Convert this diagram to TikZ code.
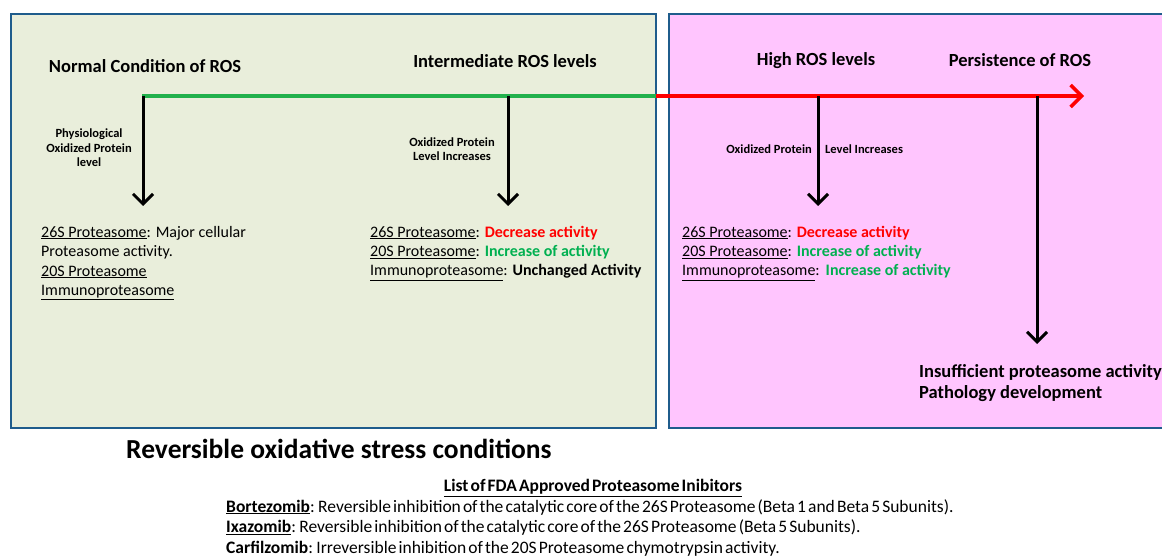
\documentclass[tikz,border=0pt]{standalone}
\usepackage{fontspec}
\setmainfont{Carlito}
\usetikzlibrary{arrows.meta}
\definecolor{boxblue}{HTML}{1F5C8C}
\definecolor{greenbg}{HTML}{E9EEDB}
\definecolor{pinkbg}{HTML}{FFC5FE}
\definecolor{tlgreen}{HTML}{22B14C}
\definecolor{txgreen}{HTML}{00B050}
\definecolor{txred}{HTML}{FF0000}
\newcommand{\tightsp}{\spaceskip=0.12em\relax}
\tikzset{
  panel/.style={draw=boxblue, line width=2.5pt},
  head/.style={font=\fontsize{18.5}{22}\selectfont\bfseries, inner sep=0pt},
  small/.style={font=\fontsize{12.5}{14.5}\selectfont\bfseries, align=center, inner sep=0pt},
  body/.style={font=\fontsize{16}{19.5}\selectfont, align=left, inner sep=0pt, anchor=base west},
  down/.style={line width=3pt, -{Straight Barb[length=10pt,width=20pt,line width=3pt]}},
}
\newcommand{\ul}[1]{\underline{#1}}
\begin{document}
\begin{tikzpicture}[x=1pt,y=-1pt]
\useasboundingbox (0,0) rectangle (1162,556);
\fill[white] (0,0) rectangle (1162,556);
% panels
\draw[panel, fill=greenbg] (11,14) rectangle (656,428);
\draw[panel, fill=pinkbg] (669,14) rectangle (1175,428);
% timeline
\coordinate (t0) at (142,96);
\coordinate (tm) at (656,96);
\coordinate (tend) at (1084,96);
\draw[tlgreen, line width=4pt] (t0) -- (tm);
\draw[txred, line width=4pt, -{Straight Barb[length=11pt,width=22pt,line width=3.5pt]}] (tm) -- (tend);
% headers
\node[head] (h1) at (145,66) {Normal Condition of ROS};
\node[head] (h2) at (505,61) {Intermediate ROS levels};
\node[head] (h3) at (816,61) {High ROS levels};
\node[head] (h4) at (1020,60) {Persistence of ROS};
% arrow start points
\coordinate (a1) at (143,96);
\coordinate (a2) at (508,96);
\coordinate (a3) at (818,96);
\coordinate (a4) at (1037,96);
\coordinate (b1) at (143,206);
\coordinate (b2) at (508,206);
\coordinate (b3) at (818,206);
\coordinate (b4) at (1037,344);
\draw[down] (a1) -- (b1);
\draw[down] (a2) -- (b2);
\draw[down] (a3) -- (b3);
\draw[down] (a4) -- (b4);
% small labels
\node[small] (s1) at (89,148) {Physiological\\Oxidized Protein\\level};
\node[small] (s2) at (452,149) {Oxidized Protein\\Level Increases};
\node[small, anchor=east] (s3) at (812,149) {Oxidized Protein};
\node[small, anchor=west] (s4) at (825,149) {Level Increases};
% body texts (anchor = baseline of last line)
\node[body] (c1) at (41,295.5) {\ul{26S Proteasome}: Major cellular\\Proteasome activity.\\\ul{20S Proteasome}\\\ul{Immunoproteasome}};
\node[body] (c2) at (370,276) {\ul{26S Proteasome}: \textcolor{txred}{\bfseries Decrease activity}\\\ul{20S Proteasome}: \textcolor{txgreen}{\bfseries Increase of activity}\\\ul{Immunoproteasome}: \textbf{Unchanged Activity}};
\node[body] (c3) at (682,276) {\ul{26S Proteasome}: \textcolor{txred}{\bfseries Decrease activity}\\\ul{20S Proteasome}: \textcolor{txgreen}{\bfseries Increase of activity}\\\ul{Immunoproteasome}:\hspace{6pt}\textcolor{txgreen}{\bfseries Increase of activity}};
\node[body, font=\fontsize{18.5}{21}\selectfont\bfseries] (c4) at (919,398) {Insufficient proteasome activity\\Pathology development};
% bottom
\node[font=\fontsize{27.5}{30}\selectfont\bfseries, inner sep=0pt, anchor=west] (title) at (126,449) {Reversible oxidative stress conditions};
\node[font=\fontsize{17.5}{20}\selectfont\bfseries\tightsp, inner sep=0pt] (lt) at (593,488) {\ul{List of FDA Approved Proteasome Inibitors}};
\node[body, font=\fontsize{17.5}{20.5}\selectfont\tightsp] (list) at (226,553) {\ul{\textbf{Bortezomib}}: Reversible inhibition of the catalytic core of the 26S Proteasome (Beta 1 and Beta 5 Subunits).\\\ul{\textbf{Ixazomib}}: Reversible inhibition of the catalytic core of the 26S Proteasome (Beta 5 Subunits).\\\textbf{Carfilzomib}: Irreversible inhibition of the 20S Proteasome chymotrypsin activity.};
\end{tikzpicture}
\end{document}
